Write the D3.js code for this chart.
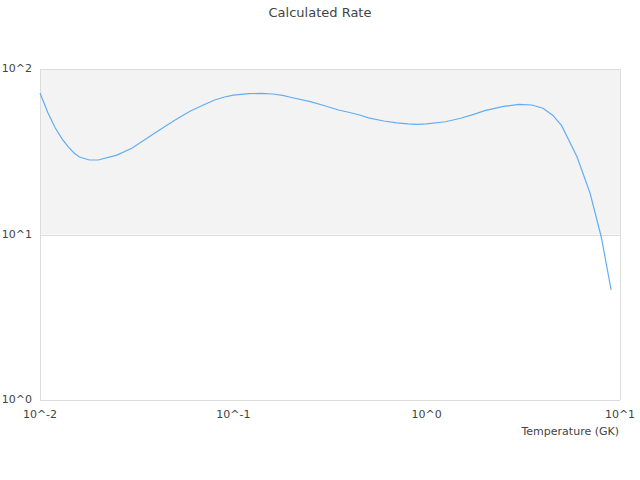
<!DOCTYPE html>
<html>
<head>
<meta charset="utf-8">
<script src="https://cdn.jsdelivr.net/npm/d3@7"></script>
<style>
  body { margin: 0; background: #fff; }
  text { font-family: "DejaVu Sans", sans-serif; }
</style>
</head>
<body>
<div id="chart"></div>
<script>
// Calculated rate vs temperature
const temperature = [0.01, 0.011, 0.012, 0.013, 0.014, 0.015, 0.016, 0.018, 0.02, 0.025,
    0.03, 0.04, 0.05, 0.06, 0.07, 0.08, 0.09, 0.1, 0.12, 0.14, 0.16, 0.18, 0.2, 0.25,
    0.3, 0.35, 0.4, 0.45, 0.5, 0.6, 0.7, 0.8, 0.9, 1.0, 1.25, 1.5, 1.75, 2.0, 2.5,
    3.0, 3.5, 4.0, 4.5, 5.0, 6.0, 7.0, 8.0, 9.0];
const rate = [71.6, 54.2, 44.0, 37.8, 33.8, 31.1, 29.4, 28.2, 28.2, 30.2,
    33.3, 41.6, 49.2, 55.7, 60.6, 65.0, 67.7, 69.6, 70.9, 71.3, 70.6, 69.2, 67.3, 63.5,
    59.8, 56.5, 54.6, 52.7, 50.7, 48.5, 47.2, 46.6, 46.3, 46.6, 48.0, 50.4, 53.2, 56.0, 59.4,
    61.2, 60.6, 57.9, 52.4, 45.3, 29.4, 17.8, 9.66, 4.62];
const xTicks = [0.01, 0.1, 1, 10];
const xTickLabels = ['10^-2', '10^-1', '10^0', '10^1'];
const yTicks = [1, 10, 100];
const yTickLabels = ['10^0', '10^1', '10^2'];

const width = 640;
const height = 480;
const margin = {top: 69, right: 20, bottom: 80, left: 40};

const svg = d3.select('#chart')
    .append('svg')
    .attr('width', width)
    .attr('height', height);

const x = d3.scaleLog()
    .domain([0.01, 10])
    .range([margin.left, width - margin.right]);

const y = d3.scaleLog()
    .domain([1, 100])
    .range([height - margin.bottom, margin.top]);

// Shaded band between 10^1 and 10^2
svg.append('rect')
    .attr('x', x(0.01))
    .attr('y', y(100))
    .attr('width', x(10) - x(0.01))
    .attr('height', y(10) - y(100))
    .attr('fill', '#f3f3f3');

// Horizontal grid lines
yTicks.forEach(function(t) {
    svg.append('line')
        .attr('x1', x(0.01))
        .attr('x2', x(10))
        .attr('y1', Math.round(y(t)) + 0.5)
        .attr('y2', Math.round(y(t)) + 0.5)
        .attr('stroke', '#dcdcdc')
        .attr('stroke-width', 1);
});

// Frame sides
[0.01, 10].forEach(function(t) {
    svg.append('line')
        .attr('x1', Math.round(x(t)) + 0.5)
        .attr('x2', Math.round(x(t)) + 0.5)
        .attr('y1', y(100))
        .attr('y2', y(1))
        .attr('stroke', '#dcdcdc')
        .attr('stroke-width', 1);
});

// Y tick labels
yTicks.forEach(function(t, i) {
    svg.append('text')
        .attr('x', 32)
        .attr('y', y(t))
        .attr('text-anchor', 'end')
        .attr('dominant-baseline', 'middle')
        .attr('font-size', '11px')
        .attr('fill', '#444')
        .text(yTickLabels[i]);
});

// X tick labels
xTicks.forEach(function(t, i) {
    svg.append('text')
        .attr('x', x(t))
        .attr('y', height - margin.bottom + 18)
        .attr('text-anchor', 'middle')
        .attr('font-size', '11px')
        .attr('fill', '#444')
        .text(xTickLabels[i]);
});

// Data line
const line = d3.line()
    .x(function(d, i) { return x(temperature[i]); })
    .y(function(d) { return y(d); });

svg.append('path')
    .datum(rate)
    .attr('d', line)
    .attr('fill', 'none')
    .attr('stroke', '#62adf2')
    .attr('stroke-width', 1.2);

// Title
svg.append('text')
    .attr('x', width / 2)
    .attr('y', 17)
    .attr('text-anchor', 'middle')
    .attr('font-size', '13px')
    .attr('fill', '#444')
    .text('Calculated Rate');

// X axis title
svg.append('text')
    .attr('x', width - margin.right - 1)
    .attr('y', height - margin.bottom + 35)
    .attr('text-anchor', 'end')
    .attr('font-size', '11px')
    .attr('fill', '#444')
    .text('Temperature (GK)');
</script>
</body>
</html>
